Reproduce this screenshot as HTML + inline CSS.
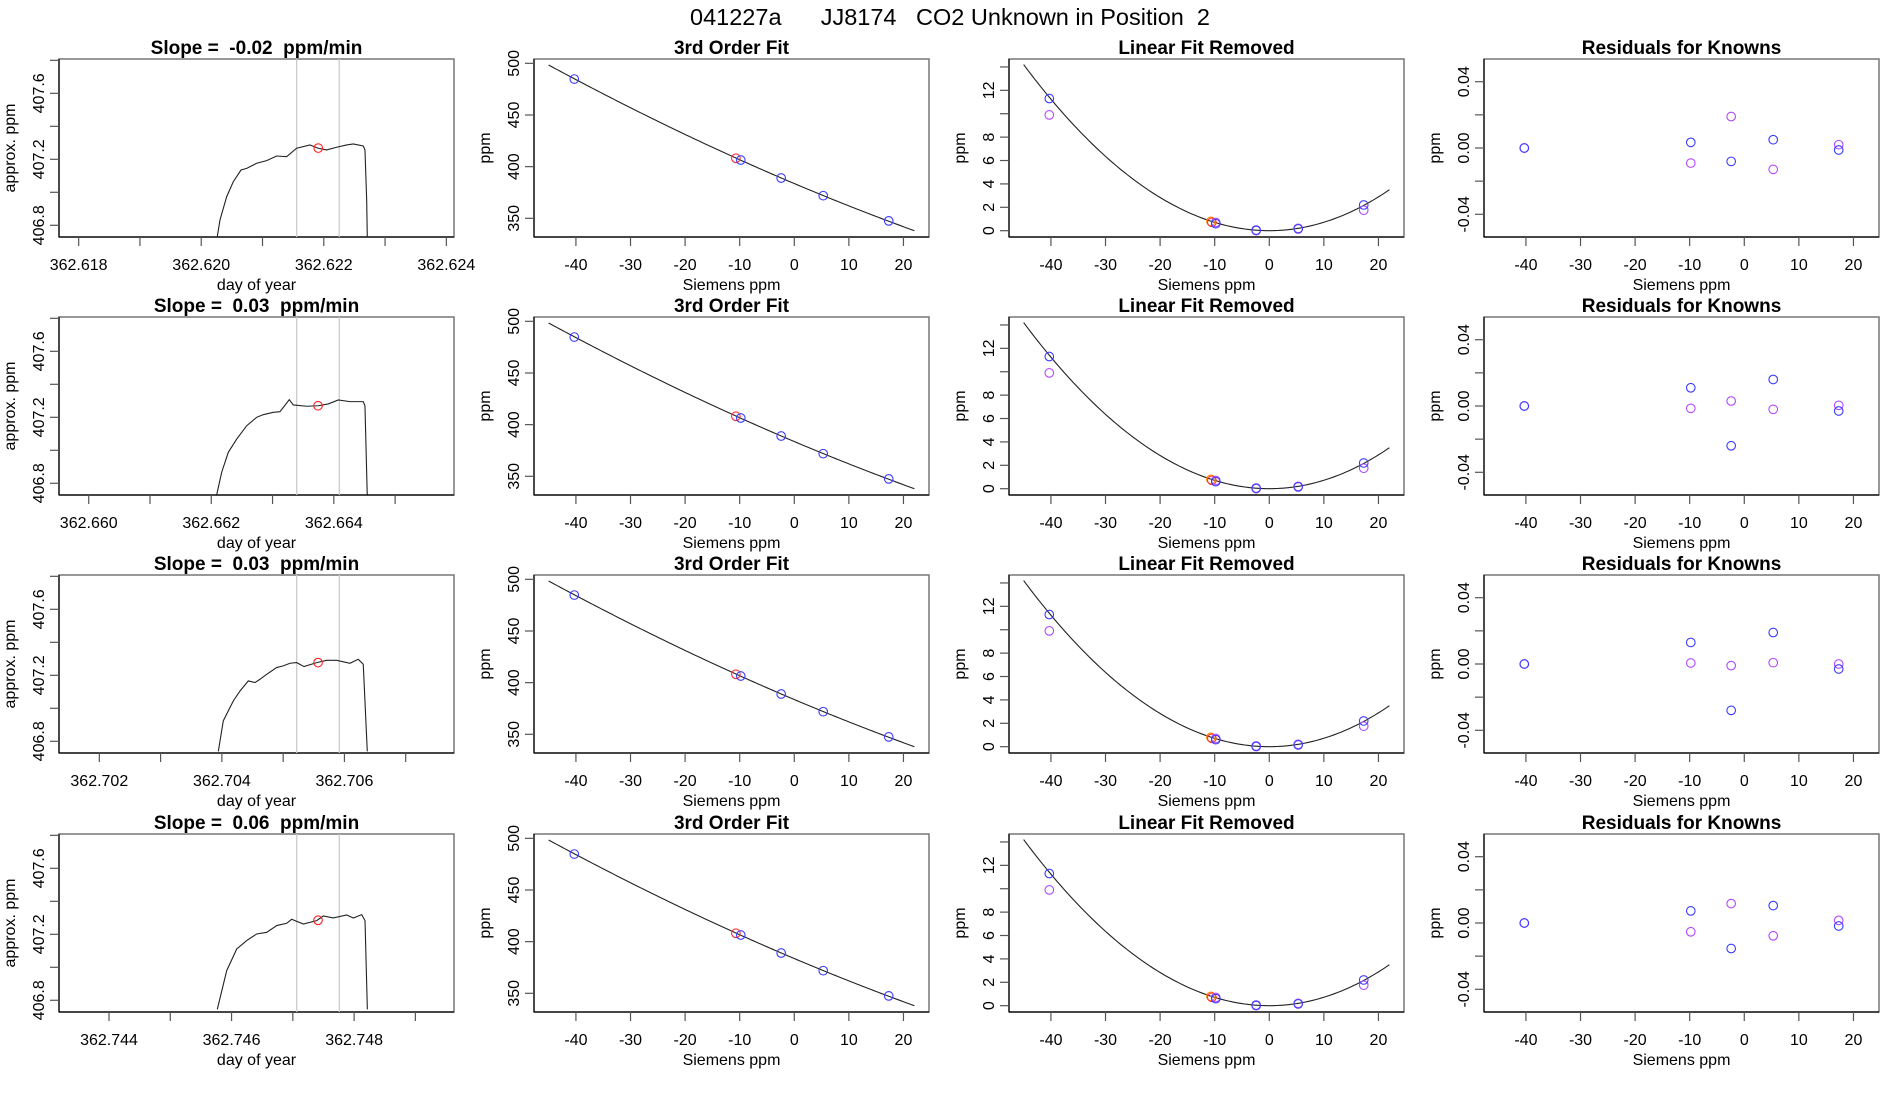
<!DOCTYPE html>
<html><head><meta charset="utf-8"><style>
html,body{margin:0;padding:0;background:#fff;}
svg{display:block;font-family:"Liberation Sans",Arial,sans-serif;}
svg text{white-space:pre;}
</style></head><body>
<svg id="fig" width="1900" height="1100" viewBox="0 0 1900 1100" xmlns="http://www.w3.org/2000/svg">
<rect width="1900" height="1100" fill="#fff"/>
<text x="950" y="25" text-anchor="middle" font-size="23.5" xml:space="preserve" fill="#000">041227a      JJ8174   CO2 Unknown in Position  2</text>
</svg>
<script>
// ---- data ----
const slopeLabels = ["-0.02", "0.03", "0.03", "0.06"];
const dayMin = [362.617679, 362.659515, 362.701342, 362.743184];
const dayTickStart = [362.618, 362.660, 362.702, 362.744];
const row1Time = [362.62026,362.620306,362.620415,362.620523,362.620649,362.620742,362.620905,362.621068,362.621231,362.621394,362.621557,362.621774,362.62191,362.622047,362.62221,362.622374,362.622481,362.622644,362.622672,362.6227,362.62271];
const row1Ppm = [406.727,406.832,406.973,407.064,407.135,407.145,407.176,407.192,407.220,407.216,407.267,407.287,407.267,407.257,407.273,407.287,407.293,407.281,407.257,406.953,406.727];
const row2Time = [362.662089,362.66217,362.662278,362.662415,362.662578,362.662741,362.662849,362.663012,362.663121,362.663273,362.663338,362.663557,362.663746,362.663909,362.664072,362.664263,362.66448,362.664508,362.664545];
const row2Ppm = [406.731,406.867,406.988,407.068,407.149,407.2,407.216,407.230,407.234,407.307,407.275,407.267,407.270,407.281,407.305,407.295,407.295,407.270,406.731];
const row3Time = [362.703942,362.704023,362.704187,362.704296,362.704431,362.704541,362.704622,362.704731,362.704894,362.705002,362.705111,362.70522,362.70534,362.705547,362.70571,362.705873,362.70609,362.706226,362.706307,362.706373];
const row3Ppm = [406.739,406.924,407.045,407.105,407.166,407.156,407.176,407.206,407.247,407.257,407.273,407.277,407.253,407.277,407.291,407.291,407.273,407.297,407.267,406.739];
const row4Time = [362.745767,362.745921,362.746084,362.746247,362.74641,362.746574,362.746737,362.7469,362.746981,362.747171,362.747389,362.747497,362.74766,362.747879,362.747987,362.748124,362.748178,362.748216];
const row4Ppm = [406.745,406.980,407.111,407.162,407.202,407.212,407.253,407.267,407.291,407.262,407.283,407.311,407.299,407.317,407.299,407.319,407.283,406.745];
const gray1 = [362.621557, 362.663394, 362.705221, 362.747063];
const gray2 = [362.622252, 362.664089, 362.705916, 362.747758];
const unkTime = [362.62191, 362.663742, 362.705569, 362.747411];
const unkPpm = [407.268, 407.270, 407.277, 407.285];

const knownX = [-40.3, -9.8, -2.4, 5.3, 17.3];
const knownY = [484.8, 406.4, 389, 371.9, 347.5];
const unknownX = -10.7;
const unknownY = 408.1;
const linRemBlue = [11.3, 0.6, 0.05, 0.15, 2.2];
const linRemPurple = [9.9, 0.7, 0.0, 0.2, 1.75];
const unknownLinRem = 0.8;
const linCoefs = [383.65, -2.234];
const curvCoefs = [0.00716, 3.27e-6];
const residBlue = [[0,0.0034,-0.0081,0.005,-0.0012],[0,0.011,-0.024,0.016,-0.003],[0,0.013,-0.028,0.019,-0.003],[0,0.0073,-0.0154,0.0105,-0.0018]];
const residPurple = [[0,-0.0091,0.019,-0.0129,0.002],[0,-0.0014,0.003,-0.002,0.0004],[0,0.0006,-0.001,0.0008,0],[0,-0.0053,0.0117,-0.0077,0.0016]];

const rowTimes = [row1Time,row2Time,row3Time,row4Time];
const rowPpms = [row1Ppm,row2Ppm,row3Ppm,row4Ppm];

// ---- layout ----
const svg = document.getElementById('fig');
const NS = 'http://www.w3.org/2000/svg';
const colL = [59,534,1009,1484], W = 395;
const rowT = [59,317,575,834], H = 178;
const BLUE = '#3a3aff', PURP = '#b048ff';

function mk(tag, attrs, parent){
  const e = document.createElementNS(NS, tag);
  for (const k in attrs) e.setAttribute(k, attrs[k]);
  (parent||svg).appendChild(e); return e;
}
function txt(s, x, y, size, opts, parent){
  const t = mk('text', {x:x, y:y, 'font-size':size, 'text-anchor':'middle', fill:'#000'}, parent);
  t.setAttributeNS('http://www.w3.org/XML/1998/namespace', 'xml:space', 'preserve');
  if (opts && opts.bold) t.setAttribute('font-weight','bold');
  if (opts && opts.rot) t.setAttribute('transform','rotate(-90 '+x+' '+y+')');
  t.textContent = s; return t;
}
function scale(d0,d1,r0,r1){ return v => r0 + (v-d0)/(d1-d0)*(r1-r0); }

function panel(r, c, title, xr, yr, xticks, xlabels, yticks, ylabels, xtitle, ytitle, name){
  const g = mk('g', {});
  
  
  const L = colL[c], T = rowT[r];
  const sx = scale(xr[0], xr[1], L, L+W), sy = scale(yr[0], yr[1], T+H, T);
  mk('rect', {x:L, y:T, width:W, height:H, fill:'none', stroke:'#777', 'stroke-width':1.5}, g);
  const t = txt(title, L+W/2, T-5, 19, {bold:true}, g);
  
  
  const xa = mk('g', {}, g);
  
  
  mk('line', {x1:L, x2:L+W, y1:T+H, y2:T+H, stroke:'#000', 'stroke-width':1.2}, xa);
  xticks.forEach((v,i) => {
    const x = sx(v);
    mk('line', {x1:x, x2:x, y1:T+H, y2:T+H+9, stroke:'#555', 'stroke-width':1.2}, xa);
    if (xlabels[i] !== '') txt(xlabels[i], x, T+H+33, 16, null, xa);
  });
  const xt = txt(xtitle, L+W/2, T+H+53, 16, null, g);
  
  
  const ya = mk('g', {}, g);
  
  
  mk('line', {x1:L, x2:L, y1:T, y2:T+H, stroke:'#000', 'stroke-width':1.2}, ya);
  yticks.forEach((v,i) => {
    const y = sy(v);
    mk('line', {x1:L-9, x2:L, y1:y, y2:y, stroke:'#555', 'stroke-width':1.2}, ya);
    if (ylabels[i] !== '') txt(ylabels[i], L-15, y, 16, {rot:true}, ya);
  });
  const yt = txt(ytitle, L-44, T+H/2, 16, {rot:true}, g);
  
  
  const clip = 'clip'+r+'_'+c;
  const cp = mk('clipPath', {id:clip}, g);
  mk('rect', {x:L, y:T, width:W, height:H}, cp);
  const plot = mk('g', {'clip-path':'url(#'+clip+')'}, g);
  return {sx, sy, plot};
}
function circ(p, x, y, color, name){
  const c = mk('circle', {cx:x, cy:y, r:4.3, fill:'none', stroke:color, 'stroke-width':1.1}, p);
  
  
}
function poly(p, pts, color, w, name){
  const e = mk('polyline', {points:pts.map(q=>q[0].toFixed(2)+','+q[1].toFixed(2)).join(' '), fill:'none', stroke:color, 'stroke-width':w}, p);
  
  
}
const q = x => curvCoefs[0]*x*x + curvCoefs[1]*x*x*x;
const fitY = x => linCoefs[0] + linCoefs[1]*x + q(x);
const sxTicks = [-40,-30,-20,-10,0,10,20];
const sxLabels = sxTicks.map(String);
const xr = [-47.68, 24.68];

for (let r = 0; r < 4; r++){
  const tTicks = [], tLabels = [];
  for (let k = 0; k < 7; k++){
    const v = dayTickStart[r] + k*0.001;
    if (v > dayMin[r] + 0.006446) break;
    tTicks.push(v); tLabels.push(k%2===0 ? v.toFixed(3) : '');
  }
  const p0 = panel(r, 0, 'Slope =  ' + slopeLabels[r] + '  ppm/min', [dayMin[r], dayMin[r]+0.006446], [406.729, 407.808],
    tTicks, tLabels, [406.8,407.0,407.2,407.4,407.6,407.8], ['406.8','','407.2','','407.6',''], 'day of year', 'approx. ppm', 'timeseries-panel-'+(r+1));
  [gray1[r], gray2[r]].forEach(v => {
    const l = mk('line', {x1:p0.sx(v), x2:p0.sx(v), y1:rowT[r], y2:rowT[r]+H, stroke:'#ccc', 'stroke-width':1.3}, p0.plot);
    
    
  });
  poly(p0.plot, rowTimes[r].map((t,i)=>[p0.sx(t), p0.sy(rowPpms[r][i])]), '#222', 1.1, 'ppm-trace');
  circ(p0.plot, p0.sx(unkTime[r]), p0.sy(unkPpm[r]), '#ff2020', 'unknown-mean-point');

  const p1 = panel(r, 1, '3rd Order Fit', xr, [331.9, 504.2], sxTicks, sxLabels, [350,400,450,500], ['350','400','450','500'], 'Siemens ppm', 'ppm', 'cubic-fit-panel-'+(r+1));
  const pts1 = []; for (let x = -45; x <= 22.001; x += 0.5) pts1.push([p1.sx(x), p1.sy(fitY(x))]);
  poly(p1.plot, pts1, '#222', 1.1, 'fit-curve');
  circ(p1.plot, p1.sx(unknownX), p1.sy(unknownY), '#ff3030', 'unknown-point');
  knownX.forEach((x,i) => circ(p1.plot, p1.sx(x), p1.sy(knownY[i]), BLUE, 'known-point'));

  const p2 = panel(r, 2, 'Linear Fit Removed', xr, [-0.54, 14.68], sxTicks, sxLabels, [0,2,4,6,8,10,12,14], ['0','2','4','6','8','','12',''], 'Siemens ppm', 'ppm', 'linear-removed-panel-'+(r+1));
  const pts2 = []; for (let x = -45; x <= 22.001; x += 0.5) pts2.push([p2.sx(x), p2.sy(q(x))]);
  poly(p2.plot, pts2, '#222', 1.1, 'curvature-curve');
  circ(p2.plot, p2.sx(unknownX), p2.sy(unknownLinRem), '#ff8c00', 'unknown-point-orange');
  circ(p2.plot, p2.sx(unknownX)+1, p2.sy(unknownLinRem)+1, '#ff3030', 'unknown-point');
  knownX.forEach((x,i) => circ(p2.plot, p2.sx(x), p2.sy(linRemPurple[i]), PURP, 'known-point-purple'));
  knownX.forEach((x,i) => circ(p2.plot, p2.sx(x), p2.sy(linRemBlue[i]), BLUE, 'known-point-blue'));

  const p3 = panel(r, 3, 'Residuals for Knowns', xr, [-0.0537, 0.0537], sxTicks, sxLabels, [-0.04,-0.02,0,0.02,0.04], ['-0.04','','0.00','','0.04'], 'Siemens ppm', 'ppm', 'residuals-panel-'+(r+1));
  knownX.forEach((x,i) => circ(p3.plot, p3.sx(x), p3.sy(residPurple[r][i]), PURP, 'residual-purple'));
  knownX.forEach((x,i) => circ(p3.plot, p3.sx(x), p3.sy(residBlue[r][i]), BLUE, 'residual-blue'));
}
</script>
</body></html>
